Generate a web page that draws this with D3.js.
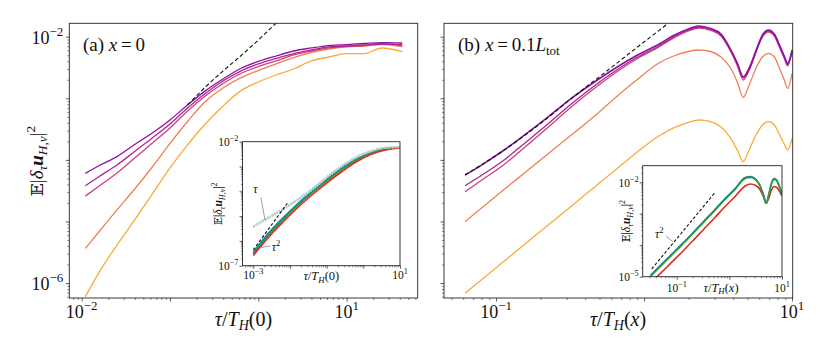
<!DOCTYPE html>
<html>
<head>
<meta charset="utf-8">
<script src="https://cdn.jsdelivr.net/npm/d3@7"></script>
<style>
  body { margin: 0; background: #fff; }
  svg { display: block; }
  svg text { font-family: 'Liberation Serif', 'Times New Roman', 'DejaVu Serif', serif; fill: #111; }
</style>
</head>
<body>
<svg id="chart" width="830" height="356" font-family="Liberation Serif, Times New Roman, DejaVu Serif, serif"></svg>
<script>
// ---- panel (a): x = 0 ----
const tauA = [0.011, 0.0158, 0.0251, 0.0398, 0.0631, 0.1, 0.158, 0.251, 0.398, 0.631, 1.0, 1.585, 2.512, 3.981, 6.31, 10, 15.85, 25.12, 42.7];
const purpleA  = [6.05e-5, 8.1e-5, 1.13e-4, 1.78e-4, 2.74e-4, 4.45e-4, 7.78e-4, 1.32e-3, 2.06e-3, 3.05e-3, 3.96e-3, 4.86e-3, 5.86e-3, 6.56e-3, 7.19e-3, 7.46e-3, 7.76e-3, 8.0e-3, 7.9e-3];
const magentaA = [3.81e-5, 5.38e-5, 8.26e-5, 1.37e-4, 2.27e-4, 3.83e-4, 6.97e-4, 1.20e-3, 1.91e-3, 2.77e-3, 3.61e-3, 4.43e-3, 5.33e-3, 6.08e-3, 6.81e-3, 7.06e-3, 7.33e-3, 7.60e-3, 7.47e-3];
const pinkA    = [2.59e-5, 3.77e-5, 6.12e-5, 1.07e-4, 1.88e-4, 3.30e-4, 6.22e-4, 1.09e-3, 1.74e-3, 2.53e-3, 3.28e-3, 4.04e-3, 5.05e-3, 5.86e-3, 6.56e-3, 6.93e-3, 7.19e-3, 7.76e-3, 7.19e-3];
const salmonA  = [3.67e-6, 6.89e-6, 1.54e-5, 3.37e-5, 7.67e-5, 1.85e-4, 4.20e-4, 8.87e-4, 1.47e-3, 2.14e-3, 2.82e-3, 3.61e-3, 4.59e-3, 5.54e-3, 6.31e-3, 6.81e-3, 7.06e-3, 7.47e-3, 6.89e-3];
const orangeA  = [6.01e-7, 1.51e-6, 4.15e-6, 1.06e-5, 2.79e-5, 7.40e-5, 1.75e-4, 3.83e-4, 7.50e-4, 1.32e-3, 1.84e-3, 2.39e-3, 2.99e-3, 4.04e-3, 4.68e-3, 5.33e-3, 5.33e-3, 6.56e-3, 5.71e-3];
const dashTauA = [0.158, 0.251, 0.398, 0.631, 1.0, 1.585];
const dashA    = [7.78e-4, 1.52e-3, 2.77e-3, 4.86e-3, 8.83e-3, 1.65e-2];

// ---- panel (b): x = 0.1 L_tot ----
const tauB = [0.0617, 0.0794, 0.1122, 0.1585, 0.2239, 0.3162, 0.4467, 0.631, 0.891, 1.259, 1.585, 1.995, 2.344, 2.818, 3.311, 3.802, 4.266, 4.677, 5.129, 5.754, 6.31, 6.918, 7.586, 8.318, 8.913, 9.333, 10.0];
const purpleB  = [5.69e-5, 8.17e-5, 1.42e-4, 2.62e-4, 4.95e-4, 9.63e-4, 1.74e-3, 3.02e-3, 4.95e-3, 7.55e-3, 1.046e-2, 1.334e-2, 1.492e-2, 1.359e-2, 1.106e-2, 6.55e-3, 3.74e-3, 2.24e-3, 3.10e-3, 6.31e-3, 1.066e-2, 1.285e-2, 1.106e-2, 6.88e-3, 4.68e-3, 3.70e-3, 6.08e-3];
const magentaB = [3.81e-5, 5.58e-5, 9.78e-5, 1.92e-4, 3.83e-4, 7.78e-4, 1.50e-3, 2.72e-3, 4.59e-3, 7.06e-3, 9.89e-3, 1.285e-2, 1.437e-2, 1.309e-2, 1.066e-2, 6.31e-3, 3.61e-3, 2.14e-3, 2.99e-3, 6.08e-3, 1.026e-2, 1.237e-2, 1.066e-2, 6.55e-3, 4.51e-3, 3.54e-3, 5.86e-3];
const pinkB    = [3.05e-5, 4.63e-5, 8.26e-5, 1.65e-4, 3.36e-4, 6.96e-4, 1.36e-3, 2.53e-3, 4.35e-3, 6.80e-3, 9.53e-3, 1.237e-2, 1.384e-2, 1.261e-2, 1.026e-2, 6.08e-3, 3.41e-3, 1.98e-3, 2.83e-3, 5.86e-3, 9.89e-3, 1.192e-2, 1.026e-2, 6.31e-3, 4.26e-3, 3.35e-3, 5.65e-3];
const salmonB  = [9.93e-6, 1.64e-5, 3.25e-5, 6.36e-5, 1.25e-4, 2.44e-4, 4.79e-4, 9.93e-4, 1.98e-3, 3.74e-3, 4.86e-3, 5.75e-3, 6.08e-3, 5.75e-3, 4.68e-3, 3.22e-3, 1.84e-3, 1.04e-3, 1.64e-3, 3.22e-3, 4.68e-3, 5.38e-3, 4.68e-3, 2.88e-3, 1.91e-3, 1.45e-3, 2.55e-3];
const orangeB  = [6.83e-7, 1.12e-6, 2.22e-6, 4.39e-6, 8.68e-6, 1.71e-5, 3.38e-5, 6.68e-5, 1.32e-4, 2.44e-4, 3.30e-4, 4.05e-4, 4.44e-4, 4.20e-4, 3.42e-4, 2.35e-4, 1.45e-4, 9.35e-5, 1.45e-4, 2.63e-4, 3.69e-4, 4.17e-4, 3.69e-4, 2.44e-4, 1.75e-4, 1.45e-4, 2.24e-4];
const dashTauB = [0.0617, 0.118, 0.198, 0.333, 0.560, 0.940, 1.459];
const dashB    = [5.69e-5, 1.54e-4, 3.83e-4, 1.05e-3, 2.77e-3, 7.33e-3, 1.65e-2];

// ---- inset of (a) ----
const tauInA = [0.001, 0.00251, 0.00631, 0.0158, 0.0398, 0.1, 0.251, 0.631, 1.585, 3.981, 10];
const tealInA  = [3.56e-7, 1.99e-6, 8.38e-6, 3.08e-5, 1.03e-4, 3.13e-4, 8.71e-4, 2.00e-3, 3.67e-3, 5.32e-3, 5.83e-3];
const blueInA  = [3.25e-7, 1.81e-6, 7.64e-6, 2.81e-5, 9.38e-5, 2.86e-4, 7.93e-4, 1.83e-3, 3.50e-3, 5.08e-3, 5.83e-3];
const greenInA = [2.96e-7, 1.58e-6, 6.65e-6, 2.55e-5, 8.53e-5, 2.60e-4, 7.23e-4, 1.75e-3, 3.34e-3, 5.08e-3, 5.83e-3];
const redInA   = [2.58e-7, 1.31e-6, 5.52e-6, 2.12e-5, 7.10e-5, 2.16e-4, 6.00e-4, 1.52e-3, 3.05e-3, 4.62e-3, 5.42e-3];
const lightBlueInA  = [3.99e-6, 8.79e-6, 1.93e-5, 4.67e-5, 1.24e-4, 3.78e-4, 1.05e-3, 2.42e-3, 4.22e-3, 5.83e-3, 6.11e-3];
const lightGreenInA = [3.8e-6, 8.4e-6, 1.85e-5, 4.5e-5, 1.18e-4, 3.6e-4, 1.0e-3, 2.35e-3, 4.1e-3, 5.7e-3, 6.0e-3];
const lightRedInA   = [3.6e-6, 8.0e-6, 1.76e-5, 4.3e-5, 1.12e-4, 3.45e-4, 9.6e-4, 2.28e-3, 4.0e-3, 5.6e-3, 5.9e-3];
const dashTauInA = [0.001, 0.00844];
const dashInA    = [4.30e-7, 3.28e-5];

// ---- inset of (b) ----
const tauInB = [0.0316, 0.0501, 0.0794, 0.126, 0.200, 0.316, 0.501, 0.794, 1.259, 1.995, 2.512, 3.162, 3.802, 4.467, 5.012, 5.623, 6.310, 7.079, 7.943, 8.913, 10];
const greenInB = [1.02e-5, 2.20e-5, 4.74e-5, 1.02e-4, 2.29e-4, 5.11e-4, 1.14e-3, 2.64e-3, 5.70e-3, 1.32e-2, 1.42e-2, 1.18e-2, 7.64e-3, 3.67e-3, 2.15e-3, 3.95e-3, 8.83e-3, 1.23e-2, 1.10e-2, 7.10e-3, 3.95e-3];
const blueInB  = [1.10e-5, 2.37e-5, 5.11e-5, 1.10e-4, 2.45e-4, 5.50e-4, 1.23e-3, 2.84e-3, 6.12e-3, 1.42e-2, 1.53e-2, 1.27e-2, 8.20e-3, 3.95e-3, 2.20e-3, 4.26e-3, 9.51e-3, 1.32e-2, 1.18e-2, 7.64e-3, 4.10e-3];
const redInB   = [6.35e-6, 1.32e-5, 2.84e-5, 6.12e-5, 1.37e-4, 3.06e-4, 6.84e-4, 1.58e-3, 3.41e-3, 7.64e-3, 8.83e-3, 7.91e-3, 5.90e-3, 3.41e-3, 2.15e-3, 3.18e-3, 5.70e-3, 7.36e-3, 6.84e-3, 5.30e-3, 3.67e-3];
const dashTauInB = [0.0334, 0.537];
const dashInB    = [1.77e-5, 4.82e-3];

// annotation anchors [tau, value]
const tauNoteInA  = { text: [0.001, 8.5e-5], from: [1.62e-3, 5.6e-5], to: [2.08e-3, 6.97e-6] };
const tau2NoteInA = { text: [3.17e-3, 3.92e-7], from: [2.85e-3, 6.22e-7], to: [1.62e-3, 5.42e-7] };
const tau2NoteInB = { text: [0.0386, 1.71e-4], from: [0.0625, 1.97e-4], to: [0.0851, 1.27e-4] };

const colors = {
  purple: "#8e10a3", magenta: "#ab2694", pink: "#c8437c", salmon: "#ef8056", orange: "#fca83a",
  teal: "#17a8c4", blue: "#1f77b4", green: "#2ca02c", red: "#e0282a",
  lightBlue: "#9fd3e6", lightGreen: "#a9dca0", lightRed: "#f3a9a2"
};
const serif = "Liberation Serif, Times New Roman, DejaVu Serif, serif";

const svg = d3.select("#chart");

function zip(xs, ys) { return xs.map((t, i) => [t, ys[i]]); }

function decadeLabel(g, x, y, e, size, anchor) {
  const t = g.append("text").attr("x", x).attr("y", y)
    .attr("font-family", serif)
    .attr("font-size", size).attr("text-anchor", anchor);
  t.append("tspan").text("10");
  t.append("tspan").attr("font-size", size * 0.72).attr("dy", -size * 0.45)
    .text(e < 0 ? "\u2212" + (-e) : String(e));
}

function makeAxes(p, id) {
  const g = svg.append("g");
  const x = d3.scaleLog().domain(p.xDomain).range([p.left, p.right]);
  const y = d3.scaleLog().domain(p.yDomain).range([p.bottom, p.top]);

  g.append("rect").attr("x", p.left).attr("y", p.top)
    .attr("width", p.right - p.left).attr("height", p.bottom - p.top)
    .attr("fill", "#fff");

  svg.append("clipPath").attr("id", id).append("rect")
    .attr("x", p.left).attr("y", p.top)
    .attr("width", p.right - p.left).attr("height", p.bottom - p.top);

  function ticks(dom) {
    const lo = Math.log10(dom[0]), hi = Math.log10(dom[1]);
    const major = [], minor = [];
    for (let e = Math.floor(lo); e <= Math.ceil(hi); e++) {
      const v = Math.pow(10, e);
      if (v >= dom[0] * 0.999 && v <= dom[1] * 1.001) major.push(v);
      for (let k = 2; k < 10; k++) {
        const m = k * v;
        if (m > dom[0] && m < dom[1]) minor.push(m);
      }
    }
    return { major, minor };
  }
  const tx = ticks(p.xDomain), ty = ticks(p.yDomain);
  const tickColor = "#333";

  g.append("g").attr("transform", `translate(0,${p.bottom})`)
    .call(d3.axisBottom(x).tickValues(tx.minor).tickSize(p.minor).tickFormat(""))
    .call(a => a.select(".domain").remove())
    .call(a => a.selectAll("line").attr("stroke", tickColor).attr("stroke-width", 0.6));
  g.append("g").attr("transform", `translate(0,${p.bottom})`)
    .call(d3.axisBottom(x).tickValues(tx.major).tickSize(p.major).tickFormat(""))
    .call(a => a.select(".domain").remove())
    .call(a => a.selectAll("line").attr("stroke", tickColor).attr("stroke-width", 0.8));
  g.append("g").attr("transform", `translate(${p.left},0)`)
    .call(d3.axisLeft(y).tickValues(ty.minor).tickSize(p.minor).tickFormat(""))
    .call(a => a.select(".domain").remove())
    .call(a => a.selectAll("line").attr("stroke", tickColor).attr("stroke-width", 0.6));
  g.append("g").attr("transform", `translate(${p.left},0)`)
    .call(d3.axisLeft(y).tickValues(ty.major).tickSize(p.major).tickFormat(""))
    .call(a => a.select(".domain").remove())
    .call(a => a.selectAll("line").attr("stroke", tickColor).attr("stroke-width", 0.8));

  p.xLabels.forEach(e => decadeLabel(g, x(Math.pow(10, e)), p.bottom + p.xLabelDy, e, p.tickFont, "middle"));
  p.yLabels.forEach(e => decadeLabel(g, p.left - p.yLabelDx, y(Math.pow(10, e)) + p.yLabelDy, e, p.tickFont, "end"));

  const plot = g.append("g").attr("clip-path", `url(#${id})`);
  return { g, plot, x, y, p };
}

function drawLine(ax, taus, vals, color, width, dash) {
  const line = d3.line()
    .x(d => ax.x(d[0])).y(d => ax.y(d[1]))
    .curve(d3.curveMonotoneX);
  ax.plot.append("path").datum(zip(taus, vals))
    .attr("fill", "none").attr("stroke", color)
    .attr("stroke-width", width)
    .attr("stroke-dasharray", dash || null)
    .attr("stroke-linejoin", "round")
    .attr("d", line);
}

function frame(ax) {
  const p = ax.p;
  ax.g.append("rect").attr("x", p.left).attr("y", p.top)
    .attr("width", p.right - p.left).attr("height", p.bottom - p.top)
    .attr("fill", "none").attr("stroke", "#222").attr("stroke-width", 0.9);
}

function yLabel(g, x, y, size) {
  const t = g.append("text").attr("transform", `translate(${x},${y}) rotate(-90)`)
    .attr("font-family", serif)
    .attr("text-anchor", "middle").attr("font-size", size);
  t.append("tspan").attr("font-family", "DejaVu Serif, DejaVu Sans, serif").attr("font-size", size * 0.9).text("\u{1D53C}");
  t.append("tspan").text("|");
  t.append("tspan").attr("font-style", "italic").text("\u03B4");
  t.append("tspan").attr("font-style", "italic").attr("font-size", size * 0.7).attr("dy", size * 0.22).text("\u03C4");
  t.append("tspan").attr("font-style", "italic").attr("font-weight", "bold").attr("dy", -size * 0.22).text("u");
  t.append("tspan").attr("font-style", "italic").attr("font-size", size * 0.7).attr("dy", size * 0.22).text("H,\u03BD");
  t.append("tspan").attr("dy", -size * 0.22).text("|");
  t.append("tspan").attr("font-size", size * 0.7).attr("dy", -size * 0.42).text("2");
}

function xLabel(g, x, y, size, arg) {
  const t = g.append("text").attr("x", x).attr("y", y)
    .attr("font-family", serif)
    .attr("text-anchor", "middle").attr("font-size", size);
  t.append("tspan").attr("font-style", "italic").text("\u03C4");
  t.append("tspan").text("/");
  t.append("tspan").attr("font-style", "italic").text("T");
  t.append("tspan").attr("font-style", "italic").attr("font-size", size * 0.7).attr("dy", size * 0.22).text("H");
  t.append("tspan").attr("dy", -size * 0.22).text("(");
  if (arg === "x") t.append("tspan").attr("font-style", "italic").text("x");
  else t.append("tspan").text(arg);
  t.append("tspan").text(")");
}

function annotate(ax, note, label, size) {
  ax.g.append("line")
    .attr("x1", ax.x(note.from[0])).attr("y1", ax.y(note.from[1]))
    .attr("x2", ax.x(note.to[0])).attr("y2", ax.y(note.to[1]))
    .attr("stroke", "#888").attr("stroke-width", 0.8);
  const t = ax.g.append("text").attr("x", ax.x(note.text[0])).attr("y", ax.y(note.text[1]))
    .attr("font-family", serif).attr("font-size", size);
  t.append("tspan").attr("font-style", "italic").text("\u03C4");
  if (label === 2) t.append("tspan").attr("font-size", size * 0.72).attr("dy", -size * 0.42).text("2");
}

const yDomMain = [5.73e-7, 1.65e-2];

// ---------- panel (a) ----------
const axA = makeAxes({
  left: 69.3, right: 417.7, top: 23.3, bottom: 298,
  xDomain: [0.00724, 63.8], yDomain: yDomMain,
  major: 3.5, minor: 2, tickFont: 18,
  xLabels: [-2, 1], yLabels: [-6, -2], xLabelDy: 20, yLabelDx: 6, yLabelDy: 7
}, "clipA");
drawLine(axA, tauA, orangeA, colors.orange, 1.3);
drawLine(axA, tauA, salmonA, colors.salmon, 1.3);
drawLine(axA, tauA, pinkA, colors.pink, 1.3);
drawLine(axA, tauA, magentaA, colors.magenta, 1.3);
drawLine(axA, tauA, purpleA, colors.purple, 1.3);
drawLine(axA, dashTauA, dashA, "#111", 1.1, "4,2.5");
frame(axA);

// ---------- panel (b) ----------
const axB = makeAxes({
  left: 444, right: 792.7, top: 23.3, bottom: 298,
  xDomain: [0.0445, 10.1], yDomain: yDomMain,
  major: 3.5, minor: 2, tickFont: 18,
  xLabels: [-1, 1], yLabels: [], xLabelDy: 20, yLabelDx: 6, yLabelDy: 7
}, "clipB");
drawLine(axB, tauB, orangeB, colors.orange, 1.3);
drawLine(axB, tauB, salmonB, colors.salmon, 1.3);
drawLine(axB, tauB, pinkB, colors.pink, 1.3);
drawLine(axB, tauB, magentaB, colors.magenta, 1.3);
drawLine(axB, tauB, purpleB, colors.purple, 1.6);
drawLine(axB, dashTauB, dashB, "#111", 1.1, "4,2.5");
frame(axB);

// main labels
yLabel(svg, 43, 161, 19);
xLabel(svg, 243.5, 326, 20, "0");
xLabel(svg, 618, 326, 20, "x");

const titleA = svg.append("text").attr("x", 83).attr("y", 51)
  .attr("font-family", serif).attr("font-size", 19);
titleA.append("tspan").text("(a) ");
titleA.append("tspan").attr("font-style", "italic").text("x");
titleA.append("tspan").text("\u2009=\u20090");

const titleB = svg.append("text").attr("x", 458).attr("y", 51)
  .attr("font-family", serif).attr("font-size", 19);
titleB.append("tspan").text("(b) ");
titleB.append("tspan").attr("font-style", "italic").text("x");
titleB.append("tspan").text("\u2009=\u20090.1");
titleB.append("tspan").attr("font-style", "italic").text("L");
titleB.append("tspan").attr("font-size", 13).attr("dy", 4).text("tot");

// ---------- inset of (a) ----------
const inA = makeAxes({
  left: 242.5, right: 400, top: 141.7, bottom: 265.7,
  xDomain: [5.08e-4, 10], yDomain: [1e-7, 1e-2],
  major: 3, minor: 1.6, tickFont: 11.5,
  xLabels: [-3, 1], yLabels: [-7, -2], xLabelDy: 13.5, yLabelDx: 4, yLabelDy: 4.5
}, "clipInA");
drawLine(inA, tauInA, tealInA, colors.teal, 1.6);
drawLine(inA, tauInA, blueInA, colors.blue, 1.6);
drawLine(inA, tauInA, greenInA, colors.green, 1.6);
drawLine(inA, tauInA, redInA, colors.red, 1.6);
drawLine(inA, tauInA, lightRedInA, colors.lightRed, 2, "1.5,1.2");
drawLine(inA, tauInA, lightGreenInA, colors.lightGreen, 2, "1.5,1.2");
drawLine(inA, tauInA, lightBlueInA, colors.lightBlue, 2, "1.5,1.2");
drawLine(inA, dashTauInA, dashInA, "#111", 1.1, "3,2");
frame(inA);
annotate(inA, tauNoteInA, 1, 12);
annotate(inA, tau2NoteInA, 2, 12);
yLabel(svg, 222, 203.7, 11.5);
xLabel(svg, 321.3, 280, 12.5, "0");

// ---------- inset of (b) ----------
const inB = makeAxes({
  left: 642.7, right: 782, top: 165.7, bottom: 276.7,
  xDomain: [0.0225, 10], yDomain: [1e-5, 0.0337],
  major: 3, minor: 1.6, tickFont: 11.5,
  xLabels: [-1, 1], yLabels: [-5, -2], xLabelDy: 15, yLabelDx: 4, yLabelDy: 4.5
}, "clipInB");
drawLine(inB, tauInB, redInB, colors.red, 1.6);
drawLine(inB, tauInB, blueInB, colors.blue, 1.6);
drawLine(inB, tauInB, greenInB, colors.green, 1.6);
drawLine(inB, dashTauInB, dashInB, "#111", 1.1, "3,2");
frame(inB);
annotate(inB, tau2NoteInB, 2, 12);
yLabel(svg, 630, 221.2, 11.5);
xLabel(svg, 721, 291.5, 12.5, "x");
</script>
</body>
</html>
